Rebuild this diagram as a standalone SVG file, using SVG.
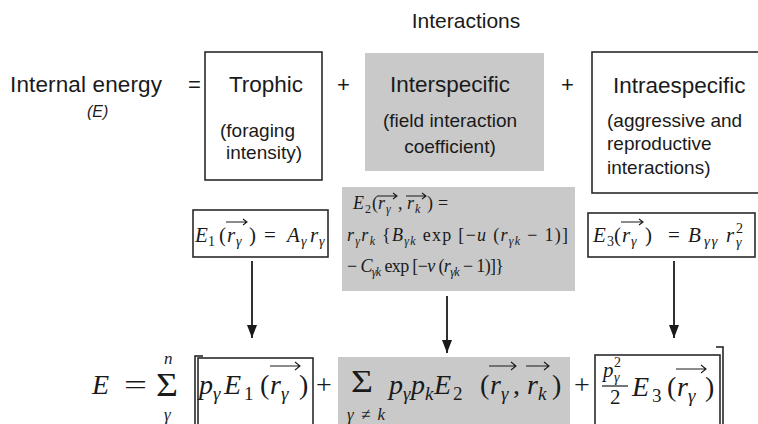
<svg xmlns="http://www.w3.org/2000/svg" width="758" height="424" viewBox="0 0 758 424">
<style>
.s{font-family:"Liberation Sans",Arial,sans-serif;fill:#1a1a1a}
.m{font-family:"Liberation Serif","DejaVu Serif",serif;fill:#1a1a1a}
.i{font-style:italic}
.box{fill:#fff;stroke:#2a2a2a;stroke-width:1.6}
.gray{fill:#c9c9c9;stroke:none}
.vec{fill:none;stroke:#1a1a1a;stroke-width:1.1}
.conn{stroke:#1a1a1a;stroke-width:1.8;fill:none}
</style>
<defs>
<marker id="ah" markerUnits="userSpaceOnUse" markerWidth="14" markerHeight="10" refX="13" refY="5" orient="auto" viewBox="0 0 14 10">
<path d="M0,0 L13,5 L0,10 Z" fill="#1a1a1a"/>
</marker>
</defs>
<rect width="758" height="424" fill="#fff"/>

<g id="title">
<text class="s" x="466" y="28" font-size="21" text-anchor="middle">Interactions</text>
</g>

<g id="internal-energy">
<text class="s" x="10" y="92" font-size="22.5" textLength="152">Internal energy</text>
<text class="s i" x="87" y="117" font-size="16">(E)</text>
<text class="s" x="188" y="92" font-size="22">=</text>
</g>

<g id="trophic">
<rect class="box" x="205" y="52" width="117" height="128"/>
<text class="s" x="266" y="92" font-size="22.5" text-anchor="middle">Trophic</text>
<text class="s" x="220" y="137" font-size="19">(foraging</text>
<text class="s" x="226" y="159" font-size="19">intensity)</text>
</g>
<text class="s" x="337" y="92" font-size="22">+</text>

<g id="interspecific">
<rect class="gray" x="365" y="53" width="179" height="118"/>
<text class="s" x="450" y="92" font-size="22.5" text-anchor="middle">Interspecific</text>
<text class="s" x="450" y="127" font-size="19" text-anchor="middle">(field interaction</text>
<text class="s" x="450" y="153" font-size="19" text-anchor="middle">coefficient)</text>
</g>
<text class="s" x="561" y="92" font-size="22">+</text>

<g id="intraespecific">
<rect class="box" x="592" y="52" width="180" height="141" stroke-width="2"/>
<text class="s" x="613" y="93" font-size="22.5">Intraespecific</text>
<text class="s" x="607" y="127" font-size="19">(aggressive and</text>
<text class="s" x="607" y="150" font-size="19"> reproductive</text>
<text class="s" x="607" y="174" font-size="19">interactions)</text>
</g>

<g id="e1">
<rect class="box" x="193" y="210" width="135" height="47"/>
<text class="m" y="242" font-size="21"><tspan x="195" class="i">E</tspan><tspan x="208" y="246" font-size="14">1</tspan><tspan x="219" y="242">(</tspan><tspan x="227" class="i">r</tspan><tspan x="236" y="246" font-size="14" class="i">γ</tspan><tspan x="249" y="242">)</tspan><tspan x="264">=</tspan><tspan x="287" class="i">A</tspan><tspan x="301" y="246" font-size="14" class="i">γ</tspan><tspan x="310" y="242" class="i">r</tspan><tspan x="319" y="246" font-size="14" class="i">γ</tspan></text>
<path class="vec" d="M226,222 H247 M243,219 L247,222 L243,225"/>
</g>

<g id="e2">
<rect class="gray" x="342" y="187" width="233" height="104"/>
<text class="m" y="209" font-size="18"><tspan x="353" class="i">E</tspan><tspan x="365" y="213" font-size="12">2</tspan><tspan x="372" y="209">(</tspan><tspan x="378" class="i">r</tspan><tspan x="386" y="213" font-size="12" class="i">γ</tspan><tspan x="398" y="209">,</tspan><tspan x="407" class="i">r</tspan><tspan x="415" y="213" font-size="12" class="i">k</tspan><tspan x="427" y="209">)</tspan><tspan x="438">=</tspan></text>
<path class="vec" d="M377,196 H397 M393,193 L397,196 L393,199 M406,196 H426 M422,193 L426,196 L422,199"/>
<text class="m" x="347" y="241" font-size="18" textLength="221" lengthAdjust="spacing"><tspan class="i">r</tspan><tspan class="i" font-size="12" dy="4">γ</tspan><tspan class="i" dy="-4">r</tspan><tspan class="i" font-size="12" dy="4">k</tspan><tspan dy="-4"> {</tspan><tspan class="i">B</tspan><tspan class="i" font-size="12" dy="4">γk</tspan><tspan dy="-4"> exp [−</tspan><tspan class="i">u</tspan><tspan> (</tspan><tspan class="i">r</tspan><tspan class="i" font-size="12" dy="4">γk</tspan><tspan dy="-4"> − 1)]</tspan></text>
<text class="m" x="347" y="272" font-size="18" textLength="157" lengthAdjust="spacing"><tspan>− </tspan><tspan class="i">C</tspan><tspan class="i" font-size="12" dy="4">γk</tspan><tspan dy="-4"> exp [−</tspan><tspan class="i">v</tspan><tspan> (</tspan><tspan class="i">r</tspan><tspan class="i" font-size="12" dy="4">γk</tspan><tspan dy="-4"> − 1)]}</tspan></text>
</g>

<g id="e3">
<rect class="box" x="588" y="213" width="167" height="44"/>
<text class="m" y="242" font-size="21"><tspan x="593" class="i">E</tspan><tspan x="607" y="246" font-size="14">3</tspan><tspan x="614" y="242">(</tspan><tspan x="622" class="i">r</tspan><tspan x="631" y="246" font-size="14" class="i">γ</tspan><tspan x="645" y="242">)</tspan><tspan x="668">=</tspan><tspan x="688" class="i">B</tspan><tspan x="704" y="246" font-size="15" class="i" letter-spacing="1.5">γγ</tspan><tspan x="726" y="242" class="i">r</tspan><tspan x="736" y="233" font-size="14">2</tspan><tspan x="736" y="247" font-size="14" class="i">γ</tspan></text>
<path class="vec" d="M621,222 H643 M639,219 L643,222 L639,225"/>
</g>

<g id="connectors">
<line class="conn" x1="252" y1="261" x2="252" y2="338" marker-end="url(#ah)"/>
<line class="conn" x1="447" y1="296" x2="447" y2="353" marker-end="url(#ah)"/>
<line class="conn" x1="674" y1="261" x2="674" y2="338" marker-end="url(#ah)"/>
</g>

<g id="equation">
<text class="m i" x="92" y="394" font-size="28">E</text>
<text class="m" x="124" y="394" font-size="28" textLength="23" lengthAdjust="spacingAndGlyphs">=</text>
<text class="m" x="156" y="396" font-size="33" textLength="22" lengthAdjust="spacingAndGlyphs">Σ</text>
<text class="m i" x="164" y="364" font-size="17">n</text>
<text class="m i" x="164" y="420" font-size="17">γ</text>
<path d="M203,356 H195 V430" fill="none" stroke="#1a1a1a" stroke-width="1.5"/>
<path d="M716,347 H723 V430" fill="none" stroke="#1a1a1a" stroke-width="1.5"/>
</g>

<g id="term1">
<rect class="box" x="198" y="358" width="115" height="80"/>
<text class="m" y="394" font-size="28"><tspan x="199" class="i">p</tspan><tspan x="213" y="400" font-size="19" class="i">γ</tspan><tspan x="224" y="394" class="i">E</tspan><tspan x="244" y="400" font-size="19">1</tspan><tspan x="260" y="394">(</tspan><tspan x="270" class="i">r</tspan><tspan x="281" y="400" font-size="19" class="i">γ</tspan><tspan x="299" y="394">)</tspan></text>
<path class="vec" d="M270,366 H300 M295,362 L300,366 L295,370"/>
</g>
<text class="m" x="316" y="394" font-size="28">+</text>

<g id="term2">
<rect class="gray" x="338" y="357" width="232" height="70"/>
<text class="m" x="351" y="392" font-size="32" textLength="22" lengthAdjust="spacingAndGlyphs">Σ</text>
<text class="m" x="347" y="420" font-size="17" textLength="38" lengthAdjust="spacing"><tspan class="i">γ</tspan>≠<tspan class="i">k</tspan></text>
<text class="m" y="394" font-size="28"><tspan x="389" class="i">p</tspan><tspan x="403" y="400" font-size="19" class="i">γ</tspan><tspan x="411" y="394" class="i">p</tspan><tspan x="425" y="400" font-size="19" class="i">k</tspan><tspan x="434" y="394" class="i">E</tspan><tspan x="453" y="400" font-size="19">2</tspan><tspan x="480" y="394">(</tspan><tspan x="490" class="i">r</tspan><tspan x="501" y="400" font-size="19" class="i">γ</tspan><tspan x="513" y="394">,</tspan><tspan x="527" class="i">r</tspan><tspan x="538" y="400" font-size="19" class="i">k</tspan><tspan x="552" y="394">)</tspan></text>
<path class="vec" d="M489,366 H516 M511,362 L516,366 L511,370 M526,366 H549 M544,362 L549,366 L544,370"/>
</g>
<text class="m" x="574" y="394" font-size="28">+</text>

<g id="term3">
<rect class="box" x="595" y="355" width="125" height="80"/>
<text class="m" font-size="21"><tspan x="603" y="377" class="i">p</tspan><tspan x="614" y="367" font-size="14">2</tspan><tspan x="614" y="382" font-size="14" class="i">γ</tspan></text>
<line x1="602" y1="386" x2="628" y2="386" stroke="#1a1a1a" stroke-width="1.2"/>
<text class="m" x="610" y="404" font-size="21">2</text>
<text class="m" y="396" font-size="28"><tspan x="632" class="i">E</tspan><tspan x="652" y="402" font-size="19">3</tspan><tspan x="667" y="396">(</tspan><tspan x="677" class="i">r</tspan><tspan x="688" y="402" font-size="19" class="i">γ</tspan><tspan x="705" y="396">)</tspan></text>
<path class="vec" d="M676,369 H706 M701,365 L706,369 L701,373"/>
</g>
</svg>
